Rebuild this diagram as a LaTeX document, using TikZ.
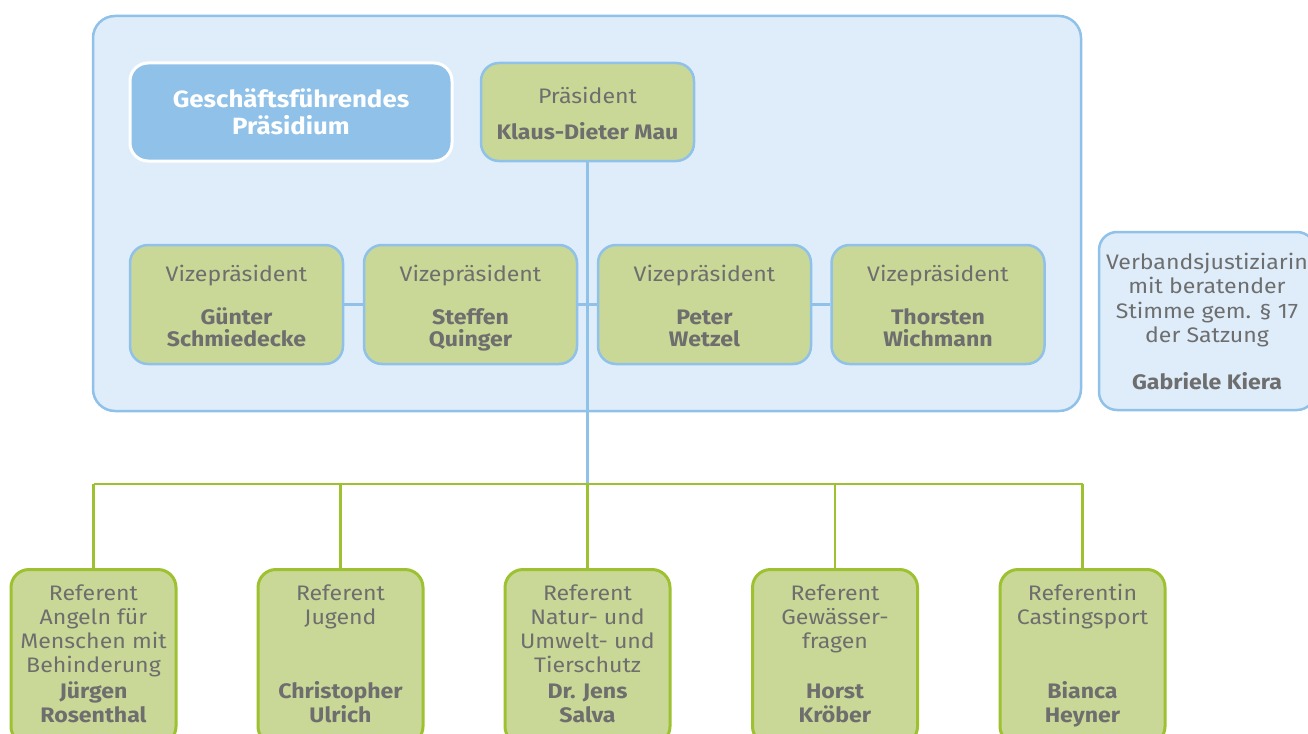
\documentclass[tikz,border=0pt]{standalone}
\usepackage{fontspec}
\setmainfont{Fira Sans}[FakeStretch=1.1]

\definecolor{boxblue}{HTML}{8FC1E9}
\definecolor{paleblue}{HTML}{DFEDFB}
\definecolor{leafgreen}{HTML}{C9D897}
\definecolor{linegreen}{HTML}{9DC131}
\definecolor{txtgray}{HTML}{6E6E6E}

\newcommand{\reftext}[2]{\parbox[c][145pt][t]{160pt}{\centering #1\par\vfill\textbf{#2}\strut}}

\tikzset{
    base/.style={rounded corners=18pt, inner sep=0pt, text=txtgray, align=center},
    gfbox/.style={base, fill=boxblue, draw=white, line width=3pt, text=white,
        font=\bfseries\fontsize{23.5}{27}\selectfont, minimum width=322pt, minimum height=98pt},
    persbox/.style={base, fill=leafgreen, draw=boxblue, line width=2.5pt,
        font=\fontsize{21}{22}\selectfont, minimum width=213pt},
    refbox/.style={base, fill=leafgreen, draw=linegreen, line width=3pt,
        font=\fontsize{21}{24}\selectfont, minimum width=165pt, minimum height=175pt, anchor=north},
    infobox/.style={base, fill=paleblue, draw=boxblue, line width=2.5pt,
        font=\fontsize{21}{24.5}\selectfont, minimum width=216pt, minimum height=178pt},
    blueline/.style={draw=boxblue, line width=2.5pt},
    greenline/.style={draw=linegreen, line width=2.5pt}
}

\begin{document}
\begin{tikzpicture}[x=1pt, y=-1pt]
    \useasboundingbox (0,0) rectangle (1308,733);

    % Praesidium frame
    \node[base, fill=paleblue, draw=boxblue, line width=2.5pt, rounded corners=22pt,
        minimum width=988pt, minimum height=395pt] (frame) at (587,213.5) {};

    \node[gfbox] (gf) at (291,112) {Geschäftsführendes\\Präsidium};
    \node[persbox, minimum height=98pt] (pres) at (587.5,112)
        {\rule{0pt}{19pt}Präsident\\[14pt]\textbf{Klaus-Dieter Mau}};

    % Vice presidents
    \node[persbox, minimum height=119pt] (vp1) at (236.5,304.5)
        {\rule{0pt}{26pt}Vizepräsident\\[21pt]\textbf{Günter}\\\textbf{Schmiedecke}\strut};
    \node[persbox, minimum height=119pt] (vp2) at (470.5,304.5)
        {\rule{0pt}{26pt}Vizepräsident\\[21pt]\textbf{Steffen}\\\textbf{Quinger}\strut};
    \node[persbox, minimum height=119pt] (vp3) at (704.5,304.5)
        {\rule{0pt}{26pt}Vizepräsident\\[21pt]\textbf{Peter}\\\textbf{Wetzel}\strut};
    \node[persbox, minimum height=119pt] (vp4) at (938,304.5)
        {\rule{0pt}{26pt}Vizepräsident\\[21pt]\textbf{Thorsten}\\\textbf{Wichmann}\strut};

    \node[infobox] (justiz) at (1207,321)
        {Verbandsjustiziarin\\mit beratender\\Stimme gem. § 17\\der Satzung\\[22pt]\textbf{Gabriele Kiera}};

    % Referents
    \node[refbox] (ref1) at (93.5,568)
        {\reftext{Referent\\Angeln für\\Menschen mit\\Behinderung}{Jürgen\\Rosenthal}};
    \node[refbox] (ref2) at (340.5,568)
        {\reftext{Referent\\Jugend}{Christopher\\Ulrich}};
    \node[refbox] (ref3) at (587.5,568)
        {\reftext{Referent\\Natur- und\\Umwelt- und\\Tierschutz}{Dr. Jens\\Salva}};
    \node[refbox] (ref4) at (835,568)
        {\reftext{Referent\\Gewässer-\\fragen}{Horst\\Kröber}};
    \node[refbox] (ref5) at (1082.5,568)
        {\reftext{Referentin\\Castingsport}{Bianca\\Heyner}};

    % Connectors
    \coordinate (bus) at (587.5,484);
    \draw[blueline] (vp1.east) -- (vp2.west);
    \draw[blueline] (vp2.east) -- (vp3.west);
    \draw[blueline] (vp3.east) -- (vp4.west);
    \draw[blueline] (pres.south) -- (bus);
    \draw[greenline] (ref1.north |- bus) -- (ref5.north |- bus);
    \foreach \i in {1,...,5}
        \draw[greenline] (ref\i.north) -- (ref\i.north |- bus);
\end{tikzpicture}
\end{document}
